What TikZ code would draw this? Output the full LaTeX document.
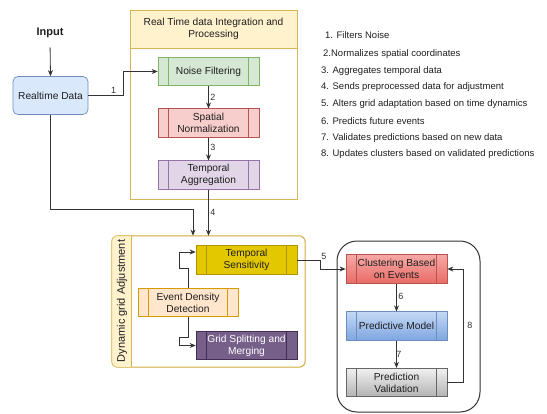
\documentclass[tikz,border=0pt]{standalone}
\usepackage{fontspec}
\setmainfont{Liberation Sans}
\usetikzlibrary{arrows.meta,calc}
\definecolor{rtF}{HTML}{DAE8FC}\definecolor{rtD}{HTML}{6C8EBF}
\definecolor{hdF}{HTML}{FFF2CC}\definecolor{hdD}{HTML}{D6B656}
\definecolor{nfF}{HTML}{D5E8D4}\definecolor{nfD}{HTML}{82B366}
\definecolor{snF}{HTML}{F8CECC}\definecolor{snD}{HTML}{B85450}
\definecolor{taF}{HTML}{E1D5E7}\definecolor{taD}{HTML}{9673A6}
\definecolor{tsF}{HTML}{E3C800}\definecolor{tsD}{HTML}{B09500}
\definecolor{edF}{HTML}{FFE6CC}\definecolor{edD}{HTML}{D79B00}
\definecolor{gsF}{HTML}{76608A}\definecolor{gsD}{HTML}{432D57}
\definecolor{cbT}{HTML}{F5A9A6}\definecolor{cbB}{HTML}{EA6B66}
\definecolor{pmT}{HTML}{C4D8F5}\definecolor{pmB}{HTML}{7EA6E0}
\definecolor{pvT}{HTML}{F0F0F0}\definecolor{pvB}{HTML}{B3B3B3}\definecolor{pvD}{HTML}{666666}
\definecolor{lineC}{HTML}{333333}
\begin{document}
\begin{tikzpicture}[x=1pt,y=-1pt,
  txt/.style={font=\fontsize{10.2}{12}\selectfont, text=black!88, align=center},
  proc/.style={txt, draw=#1, line width=0.7pt, minimum width=101pt, minimum height=28.5pt, inner sep=1pt,
     path picture={\draw[#1, line width=0.7pt] ([xshift=10.5pt]path picture bounding box.north west) -- ([xshift=10.5pt]path picture bounding box.south west);
                   \draw[#1, line width=0.7pt] ([xshift=-10.5pt]path picture bounding box.north east) -- ([xshift=-10.5pt]path picture bounding box.south east);}},
  arr/.style={draw=lineC, line width=0.8pt, -{Stealth[length=6pt,width=5pt]}},
  lbl/.style={font=\fontsize{9}{10}\selectfont, text=black!80, inner sep=1.5pt},
  leg/.style={font=\fontsize{9.5}{11}\selectfont, text=black!88, anchor=west, inner sep=0pt}]
\useasboundingbox (0,0) rectangle (547,413);

% ---------- top container ----------
\node[draw=hdD, fill=white, line width=0.7pt, minimum width=167pt, minimum height=189pt, inner sep=0pt] (topc) at (213.5,104.5) {};
\node[draw=hdD, fill=hdF, line width=0.7pt, minimum width=167pt, minimum height=38pt, txt] (toph) at (213.5,29) {Real Time data Integration and\\Processing};

% ---------- dynamic container ----------
\node[draw=hdD, fill=white, line width=0.7pt, rounded corners=6pt, minimum width=193pt, minimum height=131pt, inner sep=0pt] (dyn) at (208.5,301.5) {};
\begin{scope}
  \clip[rounded corners=6pt] (dyn.north west) rectangle (dyn.south east);
  \fill[hdF] (dyn.north west) rectangle ($(dyn.south west)+(20,0)$);
\end{scope}
\draw[hdD, line width=0.7pt, rounded corners=6pt] (dyn.north west) rectangle (dyn.south east);
\draw[hdD, line width=0.7pt] ($(dyn.north west)+(20,0)$) -- ($(dyn.south west)+(20,0)$);
\node[txt, font=\fontsize{11}{12}\selectfont, rotate=90] (dynh) at (122,301) {Dynamic grid Adjustment};

% ---------- right container ----------
\node[draw=lineC, fill=white, line width=1pt, rounded corners=20pt, minimum width=143pt, minimum height=171pt, inner sep=0pt] (rc) at (408.5,326.5) {};

% ---------- nodes ----------
\node[txt, font=\fontsize{11}{12}\selectfont\bfseries] (input) at (50,33) {Input};
\node[txt, draw=rtD, fill=rtF, line width=0.7pt, rounded corners=5pt, minimum width=75pt, minimum height=38pt] (rt) at (50.5,95.5) {Realtime Data};

\node[proc=nfD, fill=nfF] (nf) at (208.5,71.5) {Noise Filtering};
\node[proc=snD, fill=snF] (sn) at (208.5,123) {Spatial\\Normalization};
\node[proc=taD, fill=taF] (ta) at (208.5,175) {Temporal\\Aggregation};

\node[proc=tsD, fill=tsF] (ts) at (246.5,260) {Temporal\\Sensitivity};
\node[proc=edD, fill=edF, minimum width=100pt] (edd) at (188,302.5) {Event Density\\Detection};
\node[proc=gsD, fill=gsF, text=white] (gsm) at (246.5,345.5) {Grid Splitting and\\Merging};

\node[proc=snD, top color=cbT, bottom color=cbB] (cbe) at (396.5,269) {Clustering Based\\on Events};
\node[proc=rtD, top color=pmT, bottom color=pmB] (pm) at (396.5,326) {Predictive Model};
\node[proc=pvD, top color=pvT, bottom color=pvB] (pv) at (396.5,382.5) {Prediction\\Validation};

% ---------- legend ----------
\node[leg] (l1) at (325,35) {1. Filters Noise};
\node[leg] (l2) at (323,54) {2.Normalizes spatial coordinates};
\node[leg] (l3) at (321,71) {3. Aggregates temporal data};
\node[leg] (l4) at (321,87.5) {4. Sends preprocessed data for adjustment};
\node[leg] (l5) at (321,104.5) {5. Alters grid adaptation based on time dynamics};
\node[leg] (l6) at (321,121) {6. Predicts future events};
\node[leg] (l7) at (321,138) {7. Validates predictions based on new data};
\node[leg] (l8) at (321,154.5) {8. Updates clusters based on validated predictions};

% ---------- connectors ----------
\draw[arr, shorten <=6pt] (input.south) -- (rt.north);
\draw[arr] (rt.east) -- node[lbl, above, pos=0.72]{1} ++(35,0) |- (nf.west);
\draw[arr] (nf.south) -- node[lbl, right, pos=0.5]{2} (sn.north);
\draw[arr] (sn.south) -- node[lbl, right, pos=0.45]{3} (ta.north);
\draw[arr] (ta.south) -- node[lbl, right, pos=0.5]{4} (ta.south |- dyn.north);
\coordinate (c4) at (193,209);
\draw[arr] (rt.south) |- (c4) -- (c4 |- dyn.north);
\draw[arr] (edd.north) -- ++(0,-20) -- ++(-9,0) |- ([yshift=8pt]ts.west);
\draw[arr] (edd.south) -- ++(0,20) -- ++(-9,0) |- (gsm.west);
\draw[arr] (ts.east) -- node[lbl, anchor=south west, pos=1, inner sep=0.5pt]{5} ++(23,0) |- (cbe.west);
\draw[arr] (cbe.south) -- node[lbl, right, pos=0.45]{6} (pm.north);
\draw[arr] (pm.south) -- node[lbl, right, pos=0.5, xshift=-2pt]{7} (pv.north);
\draw[arr] (pv.east) -- ++(16,0) |- node[lbl, right, pos=0.25, xshift=2pt]{8} (cbe.east);
\end{tikzpicture}
\end{document}
